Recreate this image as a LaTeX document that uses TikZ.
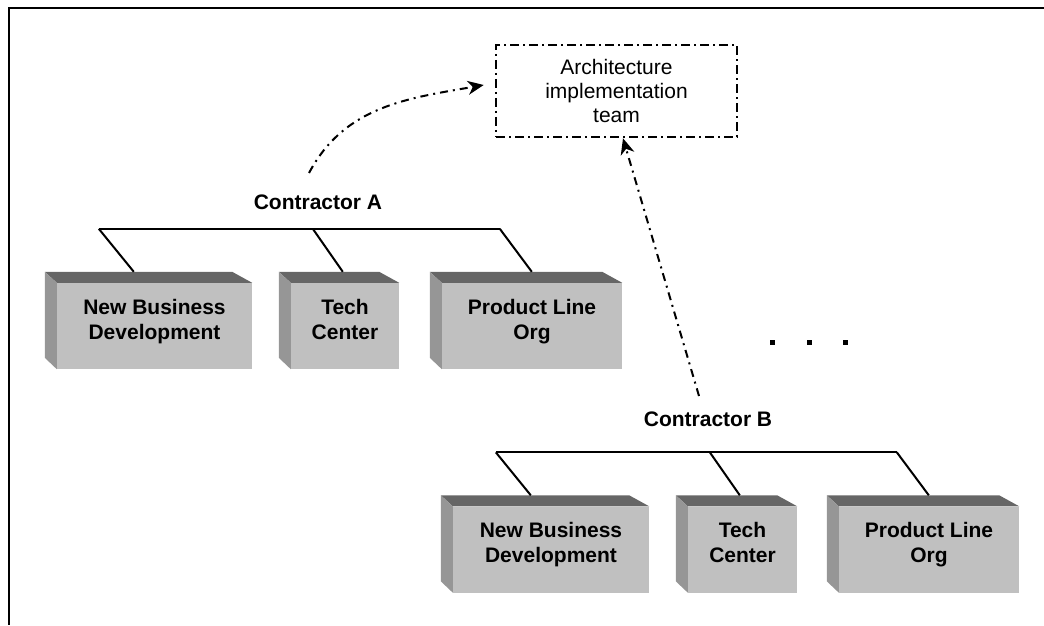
\documentclass[tikz,border=0pt]{standalone}
\usepackage{fontspec}
\setmainfont{Liberation Sans}
\usetikzlibrary{arrows.meta,calc}

\definecolor{boxfront}{HTML}{C0C0C0}
\definecolor{boxtop}{HTML}{666666}
\definecolor{boxside}{HTML}{969696}

\tikzset{
  orgbox/.style={fill=boxfront, inner sep=0pt, minimum height=86, align=center,
    text height=36pt, text depth=10pt, font=\bfseries\fontsize{21}{25}\selectfont},
  contractor/.style={font=\bfseries\fontsize{21}{25}\selectfont},
  teambox/.style={draw, line width=2.6pt, dash pattern=on 9pt off 4pt on 2pt off 4pt,
    minimum width=241, minimum height=92, align=center, font=\fontsize{21}{24}\selectfont},
  dashdot arrow/.style={line width=2pt, dash pattern=on 8pt off 5pt on 2pt off 5pt,
    -{Stealth[length=16pt,width=14pt,inset=5pt]}},
  orgline/.style={line width=2pt},
  dotsq/.style={fill, inner sep=0pt, minimum size=5pt}
}

\begin{document}
\begin{tikzpicture}[x=1pt,y=1pt]
  \useasboundingbox (0,0) rectangle (1044,625);
  \draw[line width=1.4pt] (1044,617) -- (9,617) -- (9,0);

  \foreach \nm/\cx/\cy/\bw/\ex/\jx/\lbl in {
    a1/154.5/299/195/77/-35/New Business\\Development,
    a2/345/299/108/52/-30/Tech\\Center,
    a3/532/299/180/90/-32/Product Line\\Org,
    b1/551/75.5/196/78/-35/New Business\\Development,
    b2/742.5/75.5/109/52/-30/Tech\\Center,
    b3/929/75.5/180/90/-32/Product Line\\Org}{
    \node[orgbox, minimum width=\bw] (\nm) at (\cx,\cy) {\lbl};
    \fill[boxtop] (\nm.north west) -- ++(-12,11) -- ($(\nm.north east)+(-20,11)$) -- (\nm.north east) -- cycle;
    \fill[boxside] (\nm.north west) -- ++(-12,11) -- ++(0,-86) -- (\nm.south west) -- cycle;
    \coordinate (\nm-in) at ($(\nm.north west)+(\ex,11)$);
    \coordinate (\nm-up) at ($(\nm-in)+(\jx,43)$);
    \draw[orgline] (\nm-up) -- (\nm-in);
  }
  \draw[orgline] (a1-up) -- (a3-up);
  \draw[orgline] (b1-up) -- (b3-up);

  \node[contractor] (contrA) at (318,423) {Contractor A};
  \node[contractor] (contrB) at (708,206) {Contractor B};

  \node[teambox] (team) at (616.5,534) {Architecture\\implementation\\team};

  \coordinate (contrA-out) at ([xshift=-9pt,yshift=29pt]contrA.center);
  \coordinate (contrB-out) at ([xshift=-9pt,yshift=23pt]contrB.center);
  \draw[dashdot arrow] (contrA-out) to[out=62,in=190] ([xshift=-11pt,yshift=6pt]team.west);
  \draw[dashdot arrow] (contrB-out) -- ([xshift=6.5pt]team.south);

  \foreach \i/\x in {1/772,2/809,3/845}
    \node[dotsq] (dot\i) at (\x,283) {};
\end{tikzpicture}
\end{document}
